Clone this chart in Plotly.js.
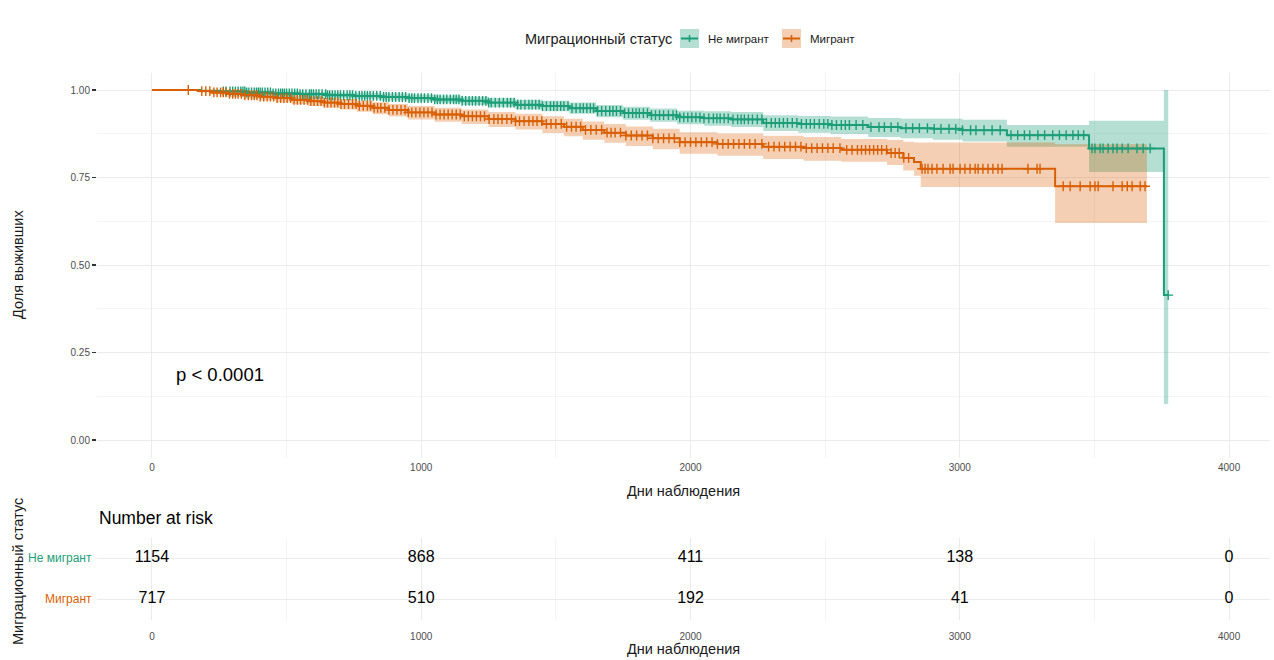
<!DOCTYPE html>
<html><head><meta charset="utf-8">
<script src="https://cdn.plot.ly/plotly-3.0.1.min.js"></script>
<style>html,body{margin:0;padding:0;background:#fff}#chart{width:1274px;height:660px}</style>
</head><body><div id="chart"></div>
<script>
// ---- Data: Kaplan–Meier steps (days, survival, 95% CI) ----
const groupNames = ["Не мигрант", "Мигрант"];
const gTimes = [0,180,250,350,450,550,650,750,850,950,1050,1150,1250,1350,1450,1550,1650,1750,1850,1950,2050,2150,2270,2400,2520,2660,2780,2900,3010,3175,3480,3758,3774];
const gSurv  = [1.0,0.998,0.996,0.993,0.990,0.988,0.985,0.983,0.980,0.977,0.973,0.969,0.964,0.958,0.954,0.948,0.940,0.934,0.928,0.922,0.919,0.916,0.906,0.903,0.900,0.894,0.891,0.889,0.885,0.871,0.833,0.414,0.414];
const gLower = [1.0,0.995,0.992,0.988,0.984,0.981,0.977,0.974,0.970,0.967,0.962,0.957,0.951,0.944,0.939,0.932,0.922,0.915,0.909,0.902,0.898,0.894,0.883,0.878,0.874,0.866,0.862,0.858,0.853,0.838,0.766,0.103,0.103];
const gUpper = [1.0,1.0,1.0,0.998,0.996,0.995,0.993,0.992,0.990,0.987,0.984,0.981,0.977,0.972,0.969,0.964,0.957,0.952,0.947,0.941,0.939,0.937,0.928,0.926,0.924,0.920,0.918,0.918,0.915,0.900,0.912,1.0,1.0];

const oTimes = [0,170,220,280,340,400,460,520,580,640,700,760,820,880,950,1050,1150,1250,1350,1450,1530,1600,1680,1760,1860,1960,2100,2270,2420,2560,2730,2790,2830,2855,3354,3695];
const oSurv  = [1.0,0.997,0.993,0.989,0.985,0.981,0.977,0.972,0.968,0.964,0.960,0.955,0.949,0.943,0.936,0.930,0.925,0.917,0.911,0.903,0.895,0.886,0.878,0.870,0.862,0.851,0.846,0.838,0.834,0.829,0.820,0.806,0.794,0.775,0.725,0.725];
const oLower = [1.0,0.993,0.987,0.980,0.975,0.970,0.965,0.959,0.954,0.949,0.944,0.938,0.931,0.924,0.916,0.909,0.903,0.894,0.887,0.877,0.868,0.858,0.849,0.840,0.831,0.818,0.812,0.803,0.798,0.795,0.786,0.770,0.755,0.723,0.620,0.620];
const oUpper = [1.0,1.0,0.999,0.996,0.993,0.990,0.987,0.983,0.980,0.977,0.974,0.970,0.965,0.960,0.954,0.949,0.944,0.937,0.932,0.925,0.918,0.910,0.903,0.896,0.889,0.879,0.876,0.869,0.866,0.860,0.857,0.852,0.850,0.850,0.845,0.845];

// censoring times (days)
const gCensor = [265,290,310,330,345,360,380,395,410,430,450,470,485,500,520,540,560,585,600,620,645,660,680,700,725,745,770,790,810,835,860,880,905,930,955,975,1000,1025,1050,1070,1095,1120,1140,1165,1190,1215,1240,1260,1290,1320,1345,1370,1400,1425,1450,1480,1505,1530,1560,1590,1615,1640,1670,1700,1725,1755,1785,1810,1840,1870,1900,1935,1960,1990,2020,2050,2085,2110,2140,2175,2200,2230,2265,2300,2330,2360,2395,2430,2460,2495,2525,2560,2590,2615,2640,2670,2700,2720,2745,2770,2800,2825,2850,2880,2905,2930,2960,2985,3010,3040,3060,3090,3120,3150,3190,3215,3240,3260,3290,3315,3345,3370,3395,3420,3440,3460,3491,3502,3521,3532,3551,3569,3584,3603,3625,3658,3681,3707,3774];
const gCensorMore = [275,300,320,338,352,370,388,402,420,440,460,478,492,510,530,550,572,592,610,632,652,670,690,712,735,757,780,800,822,848,870,893,918,942,965,988,1012,1038,1060,1083,1108,1130,1152,1178,1202,1228,1250,1275,1305,1332,1358,1385,1412,1438,1465,1492,1518,1545,1575,1602,1628,1655,1685,1712,1740,1770,1798,1825,1855,1885,1918,1948,1975,2005,2035,2068,2098,2125,2158,2188,2215,2248,2282,2315,2345,2378,2412,2445,2478,2510,2542,2575];
const oCensor = [135,200,230,255,275,300,320,345,370,390,415,440,465,490,515,540,565,590,615,640,665,690,715,745,770,800,825,850,880,910,940,965,995,1025,1055,1085,1115,1145,1175,1205,1235,1270,1300,1335,1365,1400,1430,1465,1500,1540,1575,1610,1650,1690,1720,1760,1800,1840,1880,1920,1960,2000,2040,2080,2120,2160,2200,2240,2290,2330,2370,2410,2450,2490,2530,2580,2620,2650,2680,2710,2745,2775,2810,2860,2871,2882,2897,2915,2938,2964,2975,3001,3019,3038,3057,3068,3086,3105,3123,3142,3157,3253,3287,3298,3384,3410,3447,3484,3502,3514,3569,3603,3622,3640,3670,3688];
const oCensorMore = [185,215,242,265,288,310,332,358,380,402,428,452,478,502,528,552,578,602,628,652,678,702,730,758,785,812,838,865,895,925,952,980,1010,1040,1070,1100,1130,1160,1190,1220,1252,1285,1318,1350,1382,1415,1448,1482,1520,1558,1592,1630,1670,1705,1740,1780,1820,1860,1900,1940,1980,2020,2060,2100,2140,2180,2220,2265,2310,2350,2390,2430,2470,2510,2555,2600,2635,2665,2695,2728,2760,2792];

// Number at risk table
const riskTimes = [0,1000,2000,3000,4000];
const riskNonMigrant = [1154,868,411,138,0];
const riskMigrant = [717,510,192,41,0];
const pText = "p < 0.0001";

// ---- styles ----
const GREEN = "#1B9E77", ORANGE = "#D95F02";
const FONT = "Liberation Sans, Arial, sans-serif";

function stepAt(times, vals, t){
  let v = vals[0];
  for (let i=0;i<times.length;i++){ if (times[i] <= t) v = vals[i]; else break; }
  return v;
}

const traces = [];
function ribbon(times, lo, hi, fill){
  traces.push({x:times, y:lo, mode:"lines", line:{width:0, shape:"hv"}, showlegend:false, hoverinfo:"skip", xaxis:"x", yaxis:"y"});
  traces.push({x:times, y:hi, mode:"lines", line:{width:0, shape:"hv"}, fill:"tonexty", fillcolor:fill, showlegend:false, hoverinfo:"skip", xaxis:"x", yaxis:"y"});
}
ribbon(gTimes, gLower, gUpper, "rgba(27,158,119,0.33)");
ribbon(oTimes, oLower, oUpper, "rgba(217,95,2,0.30)");

traces.push({x:gTimes, y:gSurv, mode:"lines", line:{color:GREEN, width:2, shape:"hv"}, name:groupNames[0], showlegend:false, xaxis:"x", yaxis:"y"});
traces.push({x:oTimes, y:oSurv, mode:"lines", line:{color:ORANGE, width:2, shape:"hv"}, name:groupNames[1], showlegend:false, xaxis:"x", yaxis:"y"});

const gC = gCensor.concat(gCensorMore), oC = oCensor.concat(oCensorMore);
traces.push({x:gC, y:gC.map(t=>stepAt(gTimes,gSurv,t)), mode:"markers",
  marker:{symbol:"cross-thin", size:7, color:GREEN, line:{color:GREEN, width:1.4}}, showlegend:false, xaxis:"x", yaxis:"y"});
traces.push({x:oC, y:oC.map(t=>stepAt(oTimes,oSurv,t)), mode:"markers",
  marker:{symbol:"cross-thin", size:7, color:ORANGE, line:{color:ORANGE, width:1.4}}, showlegend:false, xaxis:"x", yaxis:"y"});

// risk table
traces.push({x:riskTimes, y:riskTimes.map(()=>2), text:riskNonMigrant.map(String), mode:"text",
  textfont:{family:FONT, size:16, color:"#000"}, showlegend:false, xaxis:"x2", yaxis:"y2", hoverinfo:"skip"});
traces.push({x:riskTimes, y:riskTimes.map(()=>1), text:riskMigrant.map(String), mode:"text",
  textfont:{family:FONT, size:16, color:"#000"}, showlegend:false, xaxis:"x2", yaxis:"y2", hoverinfo:"skip"});

const W=1274, H=660, ML=97, MR=4;
const plotW = W - ML - MR;
const lx = v => (v-ML)/plotW, py = v => 1 - v/H;
const XR = [-204, 4152];
const gridC = "#EBEBEB", minorC = "#F4F4F4";
const tickFont = {family:FONT, size:10, color:"#4D4D4D"};
const titleFont = {family:FONT, size:14.5, color:"#1a1a1a"};

const layout = {
  width:W, height:H, margin:{l:ML, r:MR, t:0, b:0},
  paper_bgcolor:"#fff", plot_bgcolor:"#fff",
  font:{family:FONT},
  showlegend:false,
  xaxis:{domain:[0,1], range:XR, anchor:"y", tickvals:[0,1000,2000,3000,4000], ticktext:["0","1000","2000","3000","4000"],
    showgrid:true, gridcolor:gridC, gridwidth:1, zeroline:false, showline:false, ticks:"",
    minor:{tickvals:[500,1500,2500,3500], showgrid:true, gridcolor:minorC, gridwidth:1},
    tickfont:tickFont, ticklabelstandoff:2,
    title:{text:"Дни наблюдения", font:titleFont, standoff:14}},
  yaxis:{domain:[py(457.5), py(72.5)], range:[-0.05,1.05], anchor:"x", tickvals:[0,0.25,0.5,0.75,1], ticktext:["0.00","0.25","0.50","0.75","1.00"],
    showgrid:true, gridcolor:gridC, zeroline:false, showline:false, ticks:"outside", ticklen:4, tickcolor:"#333", tickwidth:1.2,
    minor:{tickvals:[0.125,0.375,0.625,0.875], showgrid:true, gridcolor:minorC, ticks:""},
    tickfont:tickFont},
  xaxis2:{domain:[0,1], range:XR, anchor:"y2", tickvals:[0,1000,2000,3000,4000], ticktext:["0","1000","2000","3000","4000"],
    showgrid:true, gridcolor:gridC, zeroline:false, showline:false, ticks:"",
    minor:{tickvals:[500,1500,2500,3500], showgrid:true, gridcolor:minorC},
    tickfont:tickFont, ticklabelstandoff:9,
    title:{text:"Дни наблюдения", font:titleFont, standoff:3}},
  yaxis2:{domain:[py(619.5), py(537.5)], range:[0.5,2.5], anchor:"x2", tickvals:[1,2], showticklabels:false,
    showgrid:true, gridcolor:gridC, zeroline:false, showline:false, ticks:""},
  annotations:[
    {text:"Доля выживших", xref:"paper", yref:"paper", x:lx(18), y:py(265), textangle:-90, showarrow:false,
     font:titleFont, xanchor:"center", yanchor:"middle"},
    {text:"Миграционный статус", xref:"paper", yref:"paper", x:lx(18), y:py(572), textangle:-90, showarrow:false,
     font:titleFont, xanchor:"center", yanchor:"middle"},
    {text:pText, xref:"x", yref:"y", x:82, y:0.186, showarrow:false, xanchor:"left", yanchor:"middle",
     font:{family:FONT, size:18.5, color:"#000"}},
    {text:"Number at risk", xref:"paper", yref:"paper", x:lx(97), y:py(518), showarrow:false, xanchor:"left", yanchor:"middle",
     font:{family:FONT, size:17.5, color:"#000"}},
    {text:groupNames[0], xref:"paper", yref:"y2", x:lx(94), y:2, showarrow:false, xanchor:"right", yanchor:"middle",
     font:{family:FONT, size:12, color:GREEN}},
    {text:groupNames[1], xref:"paper", yref:"y2", x:lx(94), y:1, showarrow:false, xanchor:"right", yanchor:"middle",
     font:{family:FONT, size:12, color:ORANGE}},
    // legend
    {text:"Миграционный статус", xref:"paper", yref:"paper", x:lx(674), y:py(39), showarrow:false, xanchor:"right", yanchor:"middle",
     font:titleFont},
    {text:groupNames[0], xref:"paper", yref:"paper", x:lx(706), y:py(39), showarrow:false, xanchor:"left", yanchor:"middle",
     font:{family:FONT, size:11.5, color:"#1a1a1a"}},
    {text:groupNames[1], xref:"paper", yref:"paper", x:lx(808), y:py(39), showarrow:false, xanchor:"left", yanchor:"middle",
     font:{family:FONT, size:11.5, color:"#1a1a1a"}}
  ],
  shapes:[]
};
function key(x0, color, fill){
  layout.shapes.push({type:"rect", xref:"paper", yref:"paper", x0:lx(x0), x1:lx(x0+19), y0:py(48), y1:py(29), fillcolor:fill, line:{width:0}});
  layout.shapes.push({type:"line", xref:"paper", yref:"paper", x0:lx(x0+1), x1:lx(x0+18), y0:py(38.5), y1:py(38.5), line:{color:color, width:2}});
  layout.shapes.push({type:"line", xref:"paper", yref:"paper", x0:lx(x0+9.5), x1:lx(x0+9.5), y0:py(35), y1:py(42), line:{color:color, width:1.5}});
}
key(680, GREEN, "rgba(27,158,119,0.33)");
key(782, ORANGE, "rgba(217,95,2,0.30)");

Plotly.newPlot("chart", traces, layout, {displayModeBar:false, staticPlot:true});
</script>
</body></html>
